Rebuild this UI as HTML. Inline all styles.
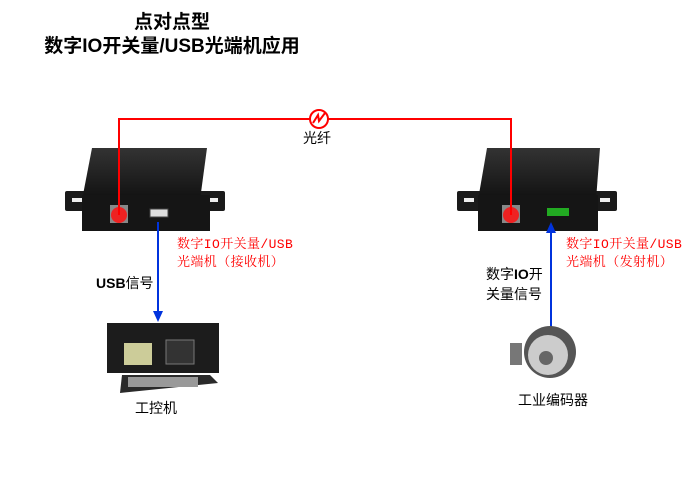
<!DOCTYPE html>
<html><head><meta charset="utf-8"><style>
body{margin:0;width:700px;height:495px;background:#fff;position:relative;overflow:hidden;font-family:"Liberation Sans","Noto Sans CJK SC",sans-serif}
.t{position:absolute;white-space:nowrap}
.r{font-size:13px;color:#f00;line-height:18px;letter-spacing:0.4px;font-family:'Liberation Mono','Noto Serif CJK SC',serif}
</style></head><body>
<div class="t" style="left:0;width:344px;text-align:center;top:11px;font-size:19px;font-weight:bold;line-height:24px">点对点型<br>数字IO开关量/USB光端机应用</div>
<svg width="700" height="495" style="position:absolute;left:0;top:0">
<defs>
<linearGradient id="g" x1="0" y1="0" x2="0" y2="1"><stop offset="0" stop-color="#333"/><stop offset="1" stop-color="#111"/></linearGradient>
</defs>
<rect x="65" y="191" width="160" height="20" rx="2" fill="#1a1a1a"/>
<rect x="72" y="198" width="10" height="4" fill="#eee"/><rect x="208" y="198" width="10" height="4" fill="#eee"/>
<polygon points="92,148 207,148 200,200 82,200" fill="url(#g)"/>
<rect x="82" y="195" width="128" height="36" fill="#151515"/>
<rect x="110" y="205" width="18" height="18" fill="#888"/>
<circle cx="119" cy="215" r="8" fill="#e22"/>
<rect x="150" y="209" width="18" height="8" fill="#ddd" stroke="#444"/>
<rect x="457" y="191" width="160" height="20" rx="2" fill="#1a1a1a"/>
<rect x="464" y="198" width="10" height="4" fill="#eee"/><rect x="600" y="198" width="10" height="4" fill="#eee"/>
<polygon points="487,148 600,148 596,200 478,200" fill="url(#g)"/>
<rect x="478" y="195" width="120" height="36" fill="#151515"/>
<rect x="502" y="205" width="18" height="18" fill="#888"/>
<circle cx="511" cy="215" r="8" fill="#e22"/>
<rect x="547" y="208" width="22" height="8" fill="#2a2"/>
<polyline points="119,215 119,119 511,119 511,215" fill="none" stroke="#f00" stroke-width="2"/>
<circle cx="319" cy="119" r="9" fill="#fff" stroke="#f00" stroke-width="2"/>
<path d="M313,123 L318,115 L319,121 L325,113" fill="none" stroke="#f00" stroke-width="2"/>
<line x1="158" y1="222" x2="158" y2="312" stroke="#0033dd" stroke-width="2"/>
<polygon points="153,311 163,311 158,322" fill="#0033dd"/>
<line x1="551" y1="232" x2="551" y2="338" stroke="#0033dd" stroke-width="2"/>
<polygon points="546,233 556,233 551,222" fill="#0033dd"/>
<rect x="107" y="323" width="112" height="50" fill="#1c1c1c"/>
<rect x="124" y="343" width="28" height="22" fill="#cc9"/>
<rect x="166" y="340" width="28" height="24" fill="#333" stroke="#777"/>
<polygon points="122,375 210,375 218,383 120,393" fill="#2a2a2a"/>
<rect x="128" y="377" width="70" height="10" fill="#999"/>
<rect x="510" y="343" width="12" height="22" fill="#777"/>
<circle cx="550" cy="352" r="26" fill="#555"/>
<circle cx="548" cy="355" r="20" fill="#ccc"/>
<circle cx="546" cy="358" r="7" fill="#666"/>
</svg>
<div class="t" style="left:303px;top:128px;font-size:14px">光纤</div>
<div class="t r" style="left:177px;top:236px">数字IO开关量/USB<br>光端机（接收机）</div>
<div class="t r" style="left:566px;top:236px">数字IO开关量/USB<br>光端机（发射机）</div>
<div class="t" style="left:96px;top:273px;font-size:14px;font-weight:bold">USB<span style="font-weight:normal">信号</span></div>
<div class="t" style="left:486px;top:264px;font-size:14px;line-height:20px">数字<b>IO</b>开<br>关量信号</div>
<div class="t" style="left:135px;top:398px;font-size:14px">工控机</div>
<div class="t" style="left:518px;top:390px;font-size:14px">工业编码器</div>
</body></html>
